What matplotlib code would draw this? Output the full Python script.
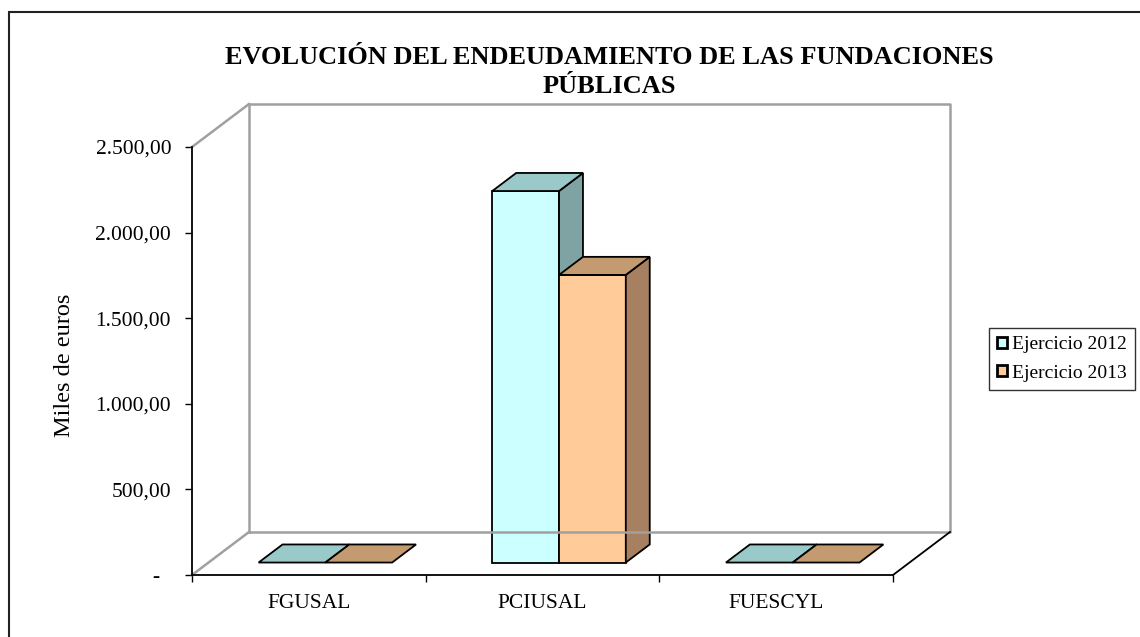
import matplotlib.pyplot as plt
from matplotlib.patches import Polygon, Patch, Rectangle

plt.rcParams['font.family'] = ['Liberation Serif', 'DejaVu Serif']

categories = ['FGUSAL', 'PCIUSAL', 'FUESCYL']
series_names = ['Ejercicio 2012', 'Ejercicio 2013']
values_2012 = [0, 2170, 0]
values_2013 = [0, 1680, 0]
yticks = [0, 500, 1000, 1500, 2000, 2500]
ytick_labels = ['-  ', '500,00', '1.000,00', '1.500,00', '2.000,00', '2.500,00']
title = 'EVOLUCIÓN DEL ENDEUDAMIENTO DE LAS FUNDACIONES\nPÚBLICAS'

# colours per series: front, top, side
colors = [('#CCFFFF', '#99C9C9', '#7FA3A3'),
          ('#FFCC99', '#C49A70', '#A68060')]

W, H = 1140, 637
fig = plt.figure(figsize=(W / 100, H / 100), dpi=100)
ax = fig.add_axes([192 / W, (H - 575) / H, 701 / W, 428 / H])
ax.set_xlim(0, 3)
ax.set_ylim(0, 2500)

# oblique depth of the 3d box, in data units
DX = 57 / (701 / 3)
DY = 43 / (428 / 2500)
d0, d1 = 0.29, 0.71  # depth of bar front / back faces
bw = 1 / 3.5
gap = 0.75 / 3.5

gray = '#A0A0A0'
lw_wall = 1.8
kw = dict(clip_on=False)

# walls
ax.plot([0, DX], [2500, 2500 + DY], color=gray, lw=lw_wall, **kw)
ax.plot([0, DX], [0, DY], color=gray, lw=lw_wall, **kw)
ax.plot([DX, DX, 3 + DX, 3 + DX, DX], [DY, 2500 + DY, 2500 + DY, DY, DY],
        color=gray, lw=lw_wall, **kw)
ax.plot([3, 3 + DX], [0, DY], color='black', lw=1.3, **kw)


def bar3d(x0, v, c):
    x1 = x0 + bw
    ox0, oy0 = d0 * DX, d0 * DY
    ox1, oy1 = d1 * DX, d1 * DY
    front = [(x0 + ox0, oy0), (x1 + ox0, oy0), (x1 + ox0, v + oy0), (x0 + ox0, v + oy0)]
    top = [(x0 + ox0, v + oy0), (x1 + ox0, v + oy0), (x1 + ox1, v + oy1), (x0 + ox1, v + oy1)]
    side = [(x1 + ox0, oy0), (x1 + ox1, oy1), (x1 + ox1, v + oy1), (x1 + ox0, v + oy0)]
    if v > 0:
        ax.add_patch(Polygon(front, closed=True, fc=c[0], ec='black', lw=1.3, **kw))
        ax.add_patch(Polygon(side, closed=True, fc=c[2], ec='black', lw=1.3, **kw))
    ax.add_patch(Polygon(top, closed=True, fc=c[1], ec='black', lw=1.3, **kw))


for i in range(len(categories)):
    for s, vals in enumerate([values_2012, values_2013]):
        bar3d(i + gap + s * bw, vals[i], colors[s])

for sp in ['top', 'right']:
    ax.spines[sp].set_visible(False)
ax.spines['left'].set_linewidth(1.3)
ax.spines['bottom'].set_linewidth(1.3)
ax.patch.set_visible(False)

ax.set_yticks(yticks)
ax.set_yticklabels(ytick_labels, fontsize=15.5)
ax.tick_params(axis='y', direction='out', length=5, width=1, pad=10)
ax.set_xticks([0, 1, 2, 3])
ax.set_xticklabels([])
ax.tick_params(axis='x', direction='out', length=5, width=1)
ax.set_xticks([0.5, 1.5, 2.5], minor=True)
ax.set_xticklabels(categories, minor=True, fontsize=15.5)
ax.tick_params(axis='x', which='minor', length=0, pad=14)

fig.text(609 / W, 1 - 72 / H, title, ha='center', va='center', fontsize=19,
         fontweight='bold', linespacing=1.32, multialignment='center')
fig.text(64 / W, 1 - 365 / H, 'Miles de euros', rotation=90, ha='center',
         va='center', fontsize=17.5)

handles = [Patch(fc=colors[s][0], ec='black', lw=2) for s in range(2)]
leg = fig.legend(handles, series_names, loc='center left',
                 bbox_to_anchor=(989 / W, 1 - 359 / H), fontsize=14,
                 frameon=True, fancybox=False, handlelength=0.5, handleheight=0.5,
                 handletextpad=0.3, borderpad=0.4, labelspacing=0.6,
                 borderaxespad=0)
leg.get_frame().set_edgecolor('black')
leg.get_frame().set_linewidth(1)

fig.add_artist(Rectangle((9 / W, -0.1), 1.2, 1 - 12 / H + 0.1, transform=fig.transFigure,
                         fill=False, ec='#222222', lw=1.5))

fig.savefig('out.png', dpi=100)
